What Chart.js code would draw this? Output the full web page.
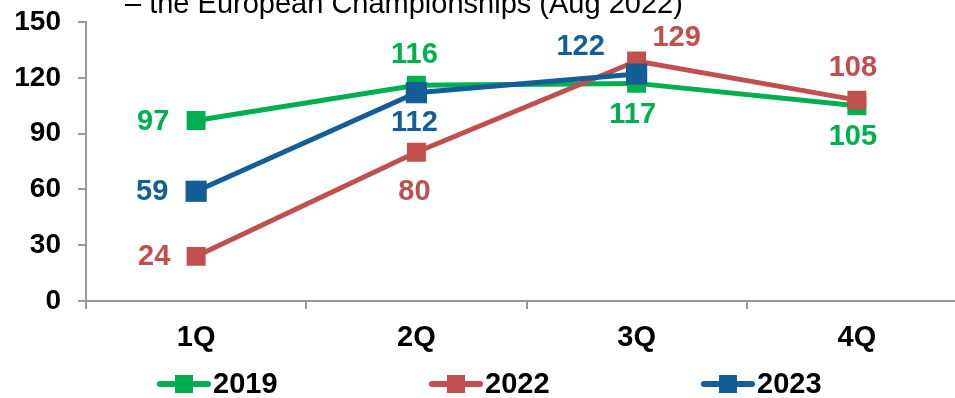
<!DOCTYPE html>
<html>
<head>
<meta charset="utf-8">
<script src="https://cdn.jsdelivr.net/npm/chart.js@4"></script>
<style>
html, body { margin: 0; padding: 0; background: #fff; overflow: hidden; }
#wrap { width: 982px; height: 398px; }
</style>
</head>
<body>
<div id="wrap"><canvas id="canvas" width="982" height="398"></canvas></div>
<script>
var quarters = ['1Q', '2Q', '3Q', '4Q'];
var seriesNames = ['2019', '2022', '2023'];
var values2019 = [97, 116, 117, 105];
var values2022 = [24, 80, 129, 108];
var values2023 = [59, 112, 122];
var yMin = 0, yMax = 150, yStep = 30;
var titleText = '\u2013 the European Championships (Aug 2022)';

var colors = ['#00B050', '#C0504D', '#135E96'];
// label offsets from each point [dx, dy]
var labelOffsets = [
  [[-43, 1], [-2, -30], [-4, 32], [-4, 31]],
  [[-42, 1], [-2, 40], [40, -23], [-4, -32]],
  [[-44, 1], [-2, 30], [-56, -27]]
];
var boldFont = 'bold 29px "Liberation Sans", Arial, sans-serif';

var valueLabels = {
  id: 'valueLabels',
  afterDatasetsDraw: function(chart) {
    var ctx = chart.ctx;
    ctx.save();
    ctx.font = boldFont;
    ctx.textAlign = 'center';
    ctx.textBaseline = 'middle';
    chart.data.datasets.forEach(function(ds, di) {
      var meta = chart.getDatasetMeta(di);
      meta.data.forEach(function(pt, i) {
        var off = labelOffsets[di][i];
        ctx.fillStyle = ds.borderColor;
        ctx.fillText(ds.data[i], pt.x + off[0], pt.y + off[1]);
      });
    });
    ctx.restore();
  }
};

var extras = {
  id: 'extras',
  afterDraw: function(chart) {
    var ctx = chart.ctx;
    ctx.save();
    // cut-off title line at the top
    ctx.font = '29px "Liberation Sans", Arial, sans-serif';
    ctx.fillStyle = '#000';
    ctx.textBaseline = 'alphabetic';
    ctx.textAlign = 'left';
    ctx.fillText(titleText, 125, 13);

    // legend
    var centers = [184, 456, 728];
    var ly = 384;
    ctx.font = boldFont;
    ctx.textBaseline = 'middle';
    chart.data.datasets.forEach(function(ds, i) {
      var cx = centers[i];
      ctx.strokeStyle = ds.borderColor;
      ctx.lineWidth = 6;
      ctx.lineCap = 'round';
      ctx.beginPath();
      ctx.moveTo(cx - 24, ly);
      ctx.lineTo(cx + 24, ly);
      ctx.stroke();
      ctx.fillStyle = ds.borderColor;
      ctx.fillRect(cx - 9, ly - 9, 18, 18);
      ctx.fillStyle = '#000';
      ctx.fillText(ds.label, cx + 29, ly + 1);
    });
    ctx.restore();
  }
};

function makeSet(label, data, color, radius, order) {
  return {
    label: label,
    data: data,
    borderColor: color,
    backgroundColor: color,
    borderWidth: 5,
    tension: 0,
    pointStyle: 'rect',
    pointRadius: radius,
    pointHoverRadius: radius,
    pointBorderWidth: 0,
    pointBackgroundColor: color,
    order: order
  };
}

window.onload = function() {
  var ctx = document.getElementById('canvas').getContext('2d');
  new Chart(ctx, {
    type: 'line',
    data: {
      labels: quarters,
      datasets: [
        makeSet(seriesNames[0], values2019, colors[0], 13.4, 3),
        makeSet(seriesNames[1], values2022, colors[1], 13.4, 2),
        makeSet(seriesNames[2], values2023, colors[2], 15, 1)
      ]
    },
    options: {
      responsive: false,
      animation: false,
      devicePixelRatio: 1,
      layout: { padding: { top: 22, right: 8, left: 0, bottom: 0 } },
      plugins: {
        legend: { display: false },
        title: { display: false },
        tooltip: { enabled: false }
      },
      scales: {
        x: {
          offset: true,
          afterFit: function(s) { s.height = 97; s.paddingLeft = 0; s.paddingRight = 0; },
          grid: { offset: true, drawOnChartArea: false, tickLength: 8, color: '#999', lineWidth: 2 },
          border: { color: '#999', width: 2 },
          ticks: { color: '#000', font: { family: '"Liberation Sans", Arial', size: 29, weight: 'bold' }, padding: 12 }
        },
        y: {
          min: yMin,
          max: yMax,
          afterFit: function(s) { s.width = 86; s.paddingTop = 0; s.paddingBottom = 0; },
          grid: { drawOnChartArea: false, tickLength: 8, color: '#999', lineWidth: 2 },
          border: { color: '#999', width: 2 },
          ticks: { stepSize: yStep, color: '#000', font: { family: '"Liberation Sans", Arial', size: 28, weight: 'bold' }, padding: 17 }
        }
      }
    },
    plugins: [valueLabels, extras]
  });
};
</script>
</body>
</html>
